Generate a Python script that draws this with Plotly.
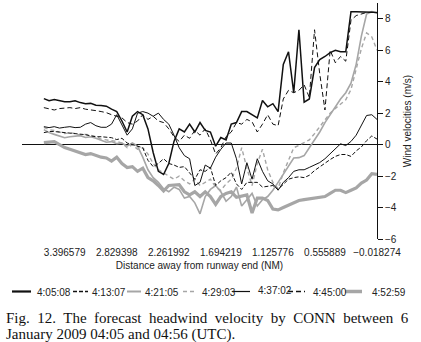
import plotly.graph_objects as go

# ---------------- data ----------------
point_index = list(range(65))
tick_positions = [4, 14, 24, 34, 44, 54, 64]
tick_labels = ["3.396579", "2.829398", "2.261992", "1.694219", "1.125776", "0.555889", "\u22120.018274"]
y_ticks = [-6, -4, -2, 0, 2, 4, 6, 8]

series_names = ["4:05:08", "4:13:07", "4:21:05", "4:29:03", "4:37:02", "4:45:00", "4:52:59"]

v_0405 = [2.92, 2.79, 2.86, 2.80, 2.73, 2.73, 2.79, 2.67, 2.60, 2.62, 2.50, 2.48, 2.44, 2.25, 2.10,
          1.50, 0.80, 1.80, 2.10, 1.90, 1.00, -0.50, -1.70, -1.90, -1.20, 0.20, 1.00, 0.80, 1.30, 0.80, 1.40, 0.90,
          0.80, -0.10, 0.45, 0.30, 1.30, 1.40, 2.10, 2.10, 1.90, 1.70, 2.80, 2.40, 2.60, 2.10,
          5.10, 5.90, 3.30, 7.30, 2.70, 2.90, 4.90, 5.40, 5.60, 5.85, 6.00, 5.90, 5.90, 8.45, 8.45, 8.45, 8.45, 8.42, 8.38]

v_0413 = [0.76, 0.83, 0.83, 0.80, 0.76, 0.70, 0.70, 0.68, 0.63, 0.55, 0.50, 0.50, 0.47, 0.44, 0.32,
          0.40, 0.10, 0.00, -0.10, -0.20, -1.00, -1.40, -1.20, -0.90, -1.20, -1.30, -1.45, -1.40, -1.80, -2.20, -1.60, -1.70,
          -1.45, -2.60, -2.30, -2.10, -1.75, -2.50, -2.85, -2.40, -2.40, -2.40, -2.70, -2.65, -2.60, -2.85,
          -2.50, -2.20, -2.10, -2.05, -2.10, -1.95, -1.65, -1.40, -1.15, -0.95, -0.75, -0.63, -0.63, -0.75, -0.40, -0.15, 0.25, 0.55, 0.35]

v_0421 = [0.95, 0.76, 0.65, 0.55, 0.44, 0.50, 0.55, 0.57, 0.45, 0.50, 0.40, 0.25, 0.15, 0.19, 0.06,
          0.10, -0.10, 0.10, -0.10, -0.80, -1.60, -2.10, -2.40, -2.80, -3.00, -2.70, -2.85, -3.40, -3.30, -3.70, -4.40, -3.30,
          -2.85, -2.60, -3.00, -3.60, -3.30, -2.70, -3.90, -3.50, -3.10, -3.90, -3.50, -3.30, -2.90, -2.40,
          -1.90, -1.40, -0.85, -0.83, -0.70, -0.20, 0.30, 0.80, 1.40, 1.90, 2.40, 2.90, 3.30, 3.90, 5.10, 6.90, 8.30, 8.45, 8.40]

v_0429 = [1.10, 0.95, 0.90, 0.80, 0.70, 0.75, 0.70, 0.60, 0.65, 0.60, 0.50, 0.35, 0.30, 0.25, 0.20,
          0.10, -0.20, 0.00, -0.30, -0.20, -0.60, -1.20, -1.60, -1.80, -2.00, -2.20, -2.00, -2.30, -2.50, -2.20, -2.60, -2.40,
          -2.20, -2.70, -2.90, -2.50, -2.20, -1.50, -0.20, -1.50, -2.60, -1.20, -0.30, -1.60, -2.40, -2.80,
          -1.80, -1.00, -0.20, -0.05, 0.10, 0.30, 0.70, 1.14, 1.60, 2.00, 2.30, 2.60, 2.85, 3.50, 4.80, 6.10, 7.10, 6.85, 6.00]

v_0437 = [1.14, 1.08, 1.14, 1.05, 1.10, 1.14, 1.08, 1.10, 1.30, 1.40, 1.20, 1.10, 1.10, 1.30, 1.90,
          1.20, 0.60, 1.00, 2.00, 2.10, 2.00, 1.80, 2.00, 1.60, 1.30, 0.60, -0.20, -0.70, -0.90, -2.60, -2.40, -1.30,
          -1.50, -0.80, -0.30, 0.10, 0.10, -0.90, -2.50, -1.15, -2.20, -0.90, -1.70, -2.30, -2.50, -2.90,
          -2.40, -2.10, -1.70, -1.60, -1.60, -1.45, -1.30, -1.14, -0.90, -0.60, -0.25, 0.05, -0.06, 0.20, 0.60, 1.25, 1.85, 1.90, 1.60]

v_0445 = [2.35, 2.25, 2.20, 2.29, 2.32, 2.35, 2.29, 2.35, 2.25, 2.22, 2.16, 2.10, 2.03, 1.90, 1.78,
          1.70, 1.40, 1.30, 1.50, 1.90, 1.60, 1.80, 1.50, 1.40, 1.00, 0.50, 0.20, 0.60, 0.40, 0.90, 0.60, 1.00,
          0.30, -0.60, -0.20, 0.50, 0.80, 1.40, 1.30, 1.60, 1.45, 0.80, 1.30, 1.90, 1.30, 1.20,
          2.90, 3.45, 3.30, 3.45, 3.80, 3.00, 7.30, 4.50, 2.20, 6.00, 5.20, 5.60, 5.30, 7.90, 8.20, 8.30, 8.40, 8.40, 8.40]

v_0452 = [0.13, 0.16, 0.19, 0.00, -0.19, -0.30, -0.42, -0.55, -0.63, -0.57, -0.70, -0.80, -0.85, -1.05, -0.80,
          -1.20, -1.46, -1.40, -1.70, -1.50, -2.10, -2.30, -2.60, -2.95, -2.60, -2.60, -2.55, -3.00, -3.20, -3.00, -3.30, -3.00,
          -3.30, -3.80, -3.30, -3.10, -3.00, -3.35, -3.30, -3.20, -4.35, -3.40, -3.40, -3.55, -4.10, -4.15,
          -4.00, -3.85, -3.70, -3.55, -3.50, -3.45, -3.40, -3.35, -3.30, -3.10, -2.90, -2.90, -3.05, -2.90, -2.75, -2.45, -2.25, -1.85, -1.90]

series_values = [v_0405, v_0413, v_0421, v_0429, v_0437, v_0445, v_0452]

# ---------------- styles ----------------
BLACK = "#111111"
GRAY = "#a6a6a6"
styles = [
    dict(color=BLACK, width=1.5, dash="solid"),
    dict(color=BLACK, width=1.0, dash="4px,2px"),
    dict(color=GRAY, width=1.6, dash="solid"),
    dict(color=GRAY, width=1.4, dash="4px,3px"),
    dict(color=BLACK, width=1.0, dash="solid"),
    dict(color=BLACK, width=1.0, dash="5px,3px"),
    dict(color=GRAY, width=3.2, dash="solid"),
]
draw_order = [6, 2, 3, 1, 5, 4, 0]

W, H = 421, 342
ML, MR, MT, MB = 22, 44, 3, 103


def px(x):
    return (x - ML) / (W - ML - MR)


def py(y):
    return (H - MB - y) / (H - MT - MB)


fig = go.Figure()
for k in draw_order:
    fig.add_trace(go.Scatter(
        x=point_index, y=series_values[k], mode="lines", name=series_names[k],
        line=styles[k], showlegend=False, hoverinfo="skip"))

SANS = "Liberation Sans, Arial, sans-serif"
SERIF = "Liberation Serif, Times New Roman, serif"

# ---------------- manual legend ----------------
leg_line_x = [(12, 31), (73, 88), (127, 141), (183, 197), (232, 250), (288, 305), (345, 362)]
leg_text_x = [35, 90, 143, 200, 256, 311, 370]
leg_text_y = [292, 292, 292, 292, 290, 292, 292]
leg_widths = [2.2, 1.3, 2.0, 1.6, 1.2, 1.3, 3.5]
LEG_Y = 291.5
shapes = []
annotations = []
for k in range(7):
    x0, x1 = leg_line_x[k]
    shapes.append(dict(type="line", xref="paper", yref="paper",
                       x0=px(x0), x1=px(x1), y0=py(LEG_Y), y1=py(LEG_Y),
                       line=dict(color=styles[k]["color"], width=leg_widths[k], dash=styles[k]["dash"])))
    annotations.append(dict(text=series_names[k], xref="paper", yref="paper",
                            x=px(leg_text_x[k]), y=py(leg_text_y[k]), xanchor="left", yanchor="middle",
                            showarrow=False, font=dict(family=SANS, size=10, color="#222222")))

# ---------------- caption ----------------
nb = "\u00a0 "
cap1 = nb.join(["Fig.", "12.", "The", "forecast", "headwind", "velocity", "by", "CONN", "between", "6"])
cap2 = "January 2009 04:05 and 04:56 (UTC)."
annotations.append(dict(text=cap1, xref="paper", yref="paper", x=px(4), y=py(317.5),
                        xanchor="left", yanchor="middle", showarrow=False,
                        font=dict(family=SERIF, size=15, color="#111111")))
annotations.append(dict(text=cap2, xref="paper", yref="paper", x=px(4), y=py(334),
                        xanchor="left", yanchor="middle", showarrow=False,
                        font=dict(family=SERIF, size=15, color="#111111")))

fig.update_layout(
    width=W, height=H, autosize=False,
    margin=dict(l=ML, r=MR, t=MT, b=MB, pad=0),
    paper_bgcolor="white", plot_bgcolor="white",
    showlegend=False,
    hovermode=False,
    font=dict(family=SANS, size=10, color="#222222"),
    shapes=shapes, annotations=annotations,
    xaxis=dict(range=[-4.2, 64], showline=False, showgrid=False, zeroline=False,
               ticks="", tickvals=tick_positions, ticktext=tick_labels,
               tickfont=dict(family=SANS, size=10, color="#222222"), ticklabelstandoff=6,
               title=dict(text="Distance away from runway end (NM)", standoff=4,
                          font=dict(family=SANS, size=10, color="#222222"))),
    yaxis=dict(range=[-6, 9], side="right", showline=True, linecolor="#111111", linewidth=1,
               ticks="outside", ticklen=5, tickcolor="#111111", tickvals=y_ticks,
               showgrid=False, zeroline=True, zerolinecolor="#111111", zerolinewidth=1,
               tickfont=dict(family=SANS, size=10, color="#222222"),
               title=dict(text="Wind velocities (m/s)", standoff=8,
                          font=dict(family=SANS, size=10, color="#222222"))),
)

fig.write_html("out.html", config={"displayModeBar": False, "staticPlot": True},
               post_script="document.body.style.margin='0';")
